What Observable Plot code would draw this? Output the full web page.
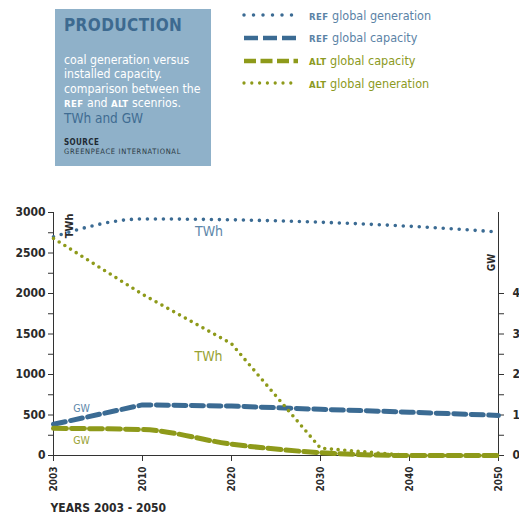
<!DOCTYPE html>
<html>
<head>
<meta charset="utf-8">
<script src="https://cdn.jsdelivr.net/npm/d3@7"></script>
<script src="https://cdn.jsdelivr.net/npm/@observablehq/plot@0.6"></script>
<style>
  html, body { margin: 0; padding: 0; background: #fff; }
  body { width: 519px; height: 517px; overflow: hidden; position: relative;
         font-family: "DejaVu Sans Condensed", "DejaVu Sans", sans-serif; font-stretch: condensed; }
  #head { position: relative; height: 200px; }
  #box { position: absolute; left: 55px; top: 9px; width: 156px; height: 157px; background: #8fb1c9; }
  #box div { position: absolute; left: 9px; white-space: nowrap; line-height: 1; }
  .t1 { font-size: 17px; font-weight: bold; color: #3d6a90; letter-spacing: 0.4px; }
  .body { font-size: 12.2px; color: #ffffff; }
  .sc { font-size: 9.5px; font-weight: bold; letter-spacing: 0.4px; }
  .twgw { font-size: 13.5px; color: #3f6c92; }
  .src { font-size: 8px; font-weight: bold; color: #1e2a33; letter-spacing: 0.4px; }
  .gp { font-size: 7.5px; color: #2c3a44; letter-spacing: 0.65px; }
  .leg { position: absolute; left: 242px; height: 22px; display: flex; align-items: center; white-space: nowrap; }
  .leg svg { width: 58px; height: 10px; margin-right: 9px; }
  .leg span { font-size: 12.5px; }
  .leg span.sc { font-size: 9.5px; }
  .ref { color: #5b83a6; }
  .alt { color: #8c9a22; }
  #chart { position: absolute; left: 0; top: 200px; }
</style>
</head>
<body>
<div id="head">
  <div id="box">
    <div class="t1" style="top:7.6px">PRODUCTION</div>
    <div class="body" style="top:44.7px">coal generation versus</div>
    <div class="body" style="top:59.2px">installed capacity.</div>
    <div class="body" style="top:73.7px">comparison between the</div>
    <div class="body" style="top:88.2px"><span class="sc">REF</span> and <span class="sc">ALT</span> scenrios.</div>
    <div class="twgw" style="top:102.6px">TWh and GW</div>
    <div class="src" style="top:130.2px">SOURCE</div>
    <div class="gp" style="top:139.2px">GREENPEACE INTERNATIONAL</div>
  </div>
  <div id="legend"></div>
</div>
<div id="chart"></div>
<script>
// ---- data ----
const years = [2003, 2010, 2020, 2030, 2040, 2050];
const refGeneration = [2700, 2920, 2910, 2880, 2830, 2760];   // TWh
const altGeneration = [2680, 1990, 1380, 90, 0, 0];           // TWh
const refCapacity = [0.77, 1.25, 1.22, 1.14, 1.07, 0.99];     // GW axis units
const altCapacity = [0.67, 0.64, 0.28, 0.07, 0, 0];           // GW axis units
const twhTicks = d3.range(0, 3001, 250);
const gwTicks = d3.range(0, 4.01, 0.5);
const twhPerGwUnit = 500;
const legendLabels = ["global generation", "global capacity", "global capacity", "global generation"];
const legendScenarios = ["REF", "REF", "ALT", "ALT"];

const blue = "#3b6b93";
const green = "#8e9a1a";
const blueText = "#5d87aa";
const greenText = "#98a232";

// ---- legend ----
const legStyles = [
  {color: blue, w: 3.5, dash: "0,9.5", cap: "round"},
  {color: blue, w: 4.5, dash: "14,5", cap: "butt"},
  {color: green, w: 4.5, dash: "12,4.5", cap: "butt"},
  {color: green, w: 3.3, dash: "0,7.8", cap: "round"}
];
const legCenters = [15, 37.5, 60.5, 83];
const legend = document.getElementById("legend");
legendLabels.forEach((lab, i) => {
  const s = legStyles[i];
  const row = document.createElement("div");
  row.className = "leg";
  row.style.top = (legCenters[i] - 11) + "px";
  row.innerHTML = `<svg viewBox="0 0 58 10"><line x1="2" y1="5" x2="56" y2="5" stroke="${s.color}" stroke-width="${s.w}" stroke-dasharray="${s.dash}" stroke-linecap="${s.cap}"/></svg>` +
    `<span class="${legendScenarios[i] === "REF" ? "ref" : "alt"}"><span class="sc">${legendScenarios[i]}</span> ${lab}</span>`;
  legend.appendChild(row);
});

// ---- chart ----
const idx = (d, i) => i;
const font = "'DejaVu Sans Condensed', 'DejaVu Sans', sans-serif";
const chart = Plot.plot({
  width: 519,
  height: 317,
  marginLeft: 53,
  marginRight: 21,
  marginTop: 12,
  marginBottom: 62,
  x: {domain: [0, years.length - 1], label: null},
  y: {domain: [0, 3000], label: null},
  style: {fontFamily: font, color: "#2a2a2a", background: "transparent", overflow: "visible"},
  marks: [
    Plot.frame({anchor: "left", stroke: "#333"}),
    Plot.frame({anchor: "right", stroke: "#333"}),
    Plot.frame({anchor: "bottom", stroke: "#333"}),
    Plot.axisY(twhTicks, {anchor: "left", tickSize: 5, tickPadding: 3, stroke: "#333",
      tickFormat: d => d % 500 === 0 ? String(d) : "", fontSize: 12, fontWeight: "bold"}),
    Plot.axisY(gwTicks.map(v => v * twhPerGwUnit), {anchor: "right", tickSize: 5, tickPadding: 9, stroke: "#333",
      tickFormat: d => Number.isInteger(d / twhPerGwUnit) ? String(d / twhPerGwUnit) : "", fontSize: 12, fontWeight: "bold"}),
    Plot.axisX(d3.range(years.length), {anchor: "bottom", tickSize: 6, tickPadding: 5, tickRotate: -90, stroke: "#333",
      tickFormat: i => String(years[i]), fontSize: 10, fontWeight: "bold"}),
    Plot.lineY(refCapacity, {x: idx, y: d => d * twhPerGwUnit, stroke: blue, strokeWidth: 5,
      strokeDasharray: "12,5.5", curve: "linear"}),
    Plot.lineY(altCapacity, {x: idx, y: d => d * twhPerGwUnit, stroke: green, strokeWidth: 5,
      strokeDasharray: "13,5", curve: "monotone-x"}),
    Plot.lineY(refGeneration, {x: idx, y: d => d, stroke: blue, strokeWidth: 3.6,
      strokeDasharray: "0,8", strokeLinecap: "round", curve: "monotone-x"}),
    Plot.lineY(altGeneration, {x: idx, y: d => d, stroke: green, strokeWidth: 3.6,
      strokeDasharray: "0,6.7", strokeLinecap: "round", curve: "linear"}),
    Plot.text(refGeneration, {x: idx, y: d => d, filter: (d, i) => i === 2, text: () => "TWh",
      dx: -22.5, dy: 12, fill: blueText, fontSize: 14}),
    Plot.text(altGeneration, {x: idx, y: d => d, filter: (d, i) => i === 2, text: () => "TWh",
      dx: -23, dy: 13, fill: greenText, fontSize: 14}),
    Plot.text(refCapacity, {x: idx, y: d => d * twhPerGwUnit, filter: (d, i) => i === 0, text: () => "GW",
      dx: 28, dy: -16, fill: blueText, fontSize: 10.5}),
    Plot.text(altCapacity, {x: idx, y: d => d * twhPerGwUnit, filter: (d, i) => i === 0, text: () => "GW",
      dx: 28, dy: 12, fill: greenText, fontSize: 10.5}),
    Plot.text(["TWh"], {frameAnchor: "top-left", rotate: -90, textAnchor: "end", dx: 12, dy: 1,
      fontSize: 11, fontWeight: "bold", fill: "#2a2a2a"}),
    Plot.text(["GW"], {frameAnchor: "top-right", rotate: -90, textAnchor: "middle", dx: -11, dy: 50,
      fontSize: 10, fontWeight: "bold", fill: "#2a2a2a"}),
    Plot.text(["YEARS 2003 - 2050"], {frameAnchor: "bottom-left", textAnchor: "start", dx: -3, dy: 56,
      fontSize: 12, fontWeight: "bold", fill: "#2a2a2a"})
  ]
});
document.getElementById("chart").appendChild(chart);
</script>
</body>
</html>
